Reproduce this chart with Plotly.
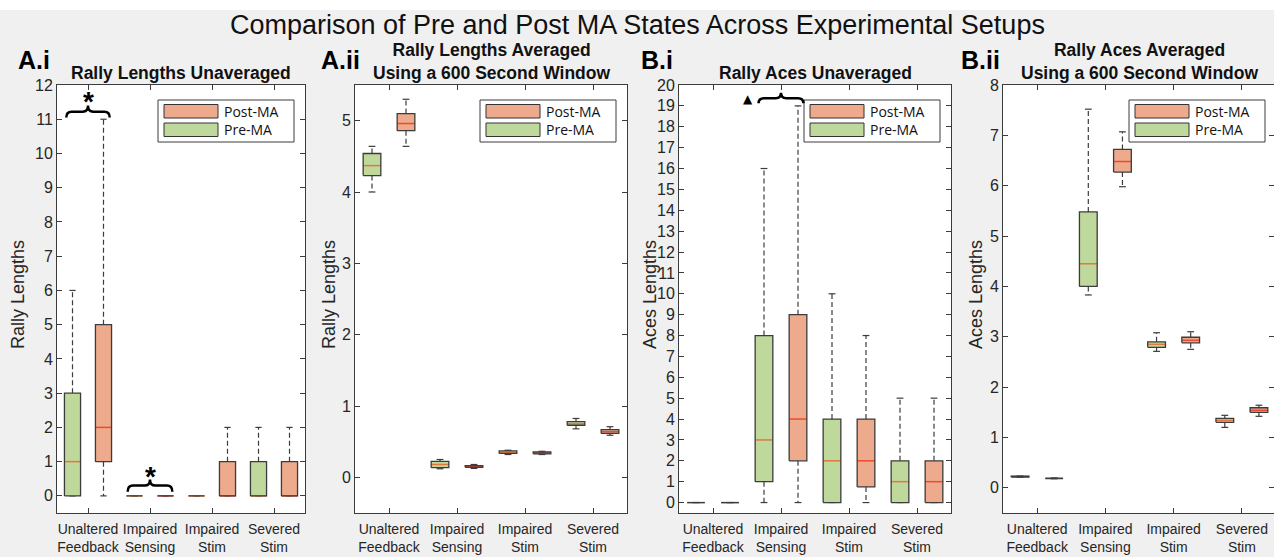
import plotly.graph_objects as go

W, H = 1274, 557

categories = ["Unaltered<br>Feedback", "Impaired<br>Sensing", "Impaired<br>Stim", "Severed<br>Stim"]
cat_pos = [0, 1, 2, 3]

# Five-number summaries per setup: (lower whisker, q1, median, q3, upper whisker)
rally_unavg_pre = [(0, 0, 1, 3, 6), (0, 0, 0, 0, 0), (0, 0, 0, 0, 0), (0, 0, 0, 1, 2)]
rally_unavg_post = [(0, 1, 2, 5, 11), (0, 0, 0, 0, 0), (0, 0, 0, 1, 2), (0, 0, 0, 1, 2)]

rally_avg_pre = [(4.00, 4.23, 4.37, 4.54, 4.64), (0.12, 0.135, 0.18, 0.225, 0.25),
                 (0.32, 0.335, 0.35, 0.37, 0.38), (0.68, 0.73, 0.75, 0.78, 0.825)]
rally_avg_post = [(4.64, 4.86, 4.96, 5.10, 5.30), (0.125, 0.14, 0.15, 0.165, 0.18),
                  (0.32, 0.33, 0.34, 0.355, 0.365), (0.59, 0.615, 0.64, 0.67, 0.71)]

aces_unavg_pre = [(0, 0, 0, 0, 0), (0, 1, 3, 8, 16), (0, 0, 2, 4, 10), (0, 0, 1, 2, 5)]
aces_unavg_post = [(0, 0, 0, 0, 0), (0, 2, 4, 9, 19), (0, 0.75, 2, 4, 8), (0, 0, 1, 2, 5)]

aces_avg_pre = [(0.21, 0.215, 0.225, 0.23, 0.235), (3.83, 4.00, 4.45, 5.48, 7.52),
                (2.71, 2.79, 2.85, 2.90, 3.08), (1.20, 1.30, 1.34, 1.38, 1.44)]
aces_avg_post = [(0.18, 0.185, 0.19, 0.195, 0.20), (5.98, 6.27, 6.48, 6.72, 7.07),
                 (2.75, 2.88, 2.93, 2.99, 3.10), (1.42, 1.50, 1.54, 1.59, 1.64)]

groups = ["Post-MA", "Pre-MA"]
fill_colors = {"Pre-MA": "#bfd89b", "Post-MA": "#eeaa8c"}
median_colors = {"Pre-MA": "#e5773c", "Post-MA": "#f04a2e"}
offsets = {"Pre-MA": -0.25, "Post-MA": 0.25}
BOX_W = 0.26
CAP_W = 0.10
EDGE = "#3c3c3c"
FONT = "Liberation Sans"
TXT = "#262626"

panels = [
    dict(label="A.i", title="Rally Lengths Unaveraged", ytitle="Rally Lengths",
         pre=rally_unavg_pre, post=rally_unavg_post, yrange=[-0.5, 12], ytick=list(range(0, 13)),
         px=(57, 305), ytitle_x=18, label_x=16),
    dict(label="A.ii", title="Rally Lengths Averaged<br>Using a 600 Second Window", ytitle="Rally Lengths",
         pre=rally_avg_pre, post=rally_avg_post, yrange=[-0.5, 5.5], ytick=list(range(0, 6)),
         px=(355, 627), ytitle_x=329, label_x=319),
    dict(label="B.i", title="Rally Aces Unaveraged", ytitle="Aces Lengths",
         pre=aces_unavg_pre, post=aces_unavg_post, yrange=[-0.5, 20], ytick=list(range(0, 21)),
         px=(679, 951), ytitle_x=650, label_x=639),
    dict(label="B.ii", title="Rally Aces Averaged<br>Using a 600 Second Window", ytitle="Aces Lengths",
         pre=aces_avg_pre, post=aces_avg_post, yrange=[-0.5, 8], ytick=list(range(0, 9)),
         px=(1003, 1276), ytitle_x=976, label_x=959),
]

PLOT_TOP, PLOT_BOT = 85, 513


def pxx(x):
    return x / W


def pxy(y):
    return 1 - y / H


fig = go.Figure()
layout_axes = {}
shapes = []
annotations = []


def add_group(xa, ya, stats, group):
    off = offsets[group]
    half = BOX_W / 2
    wx, wy, cx, cy, bx, by, mx, my = [], [], [], [], [], [], [], []
    for p, (lo, q1, med, q3, hi) in zip(cat_pos, stats):
        c = p + off
        wx += [c, c, None, c, c, None]
        wy += [q3, hi, None, q1, lo, None]
        cx += [c - CAP_W / 2, c + CAP_W / 2, None, c - CAP_W / 2, c + CAP_W / 2, None]
        cy += [hi, hi, None, lo, lo, None]
        bx += [c - half, c + half, c + half, c - half, c - half, None]
        by += [q1, q1, q3, q3, q1, None]
        mx += [c - half, c + half, None]
        my += [med, med, None]
    common = dict(xaxis=xa, yaxis=ya, mode="lines", showlegend=False, hoverinfo="skip")
    fig.add_trace(go.Scatter(x=wx, y=wy, line=dict(color=EDGE, width=1.2, dash="5px,3px"), **common))
    fig.add_trace(go.Scatter(x=cx, y=cy, line=dict(color=EDGE, width=1.2), **common))
    fig.add_trace(go.Scatter(x=bx, y=by, fill="toself", fillcolor=fill_colors[group],
                             line=dict(width=0, color=fill_colors[group]), **common))
    fig.add_trace(go.Scatter(x=mx, y=my, line=dict(color=median_colors[group], width=1.5), **common))
    fig.add_trace(go.Scatter(x=bx, y=by, line=dict(color=EDGE, width=1.3), **common))


for i, pnl in enumerate(panels):
    sfx = "" if i == 0 else str(i + 1)
    xa, ya = "x" + sfx, "y" + sfx
    x0, x1 = pnl["px"]
    # the last panel runs slightly past the right edge of the canvas
    d0, d1 = pxx(x0), pxx(x1)
    xr = [-0.5, 3.5]
    if d1 > 1.0:
        xr = [-0.5, -0.5 + 4.0 * (W - x0) / (x1 - x0)]
        d1 = 1.0
    layout_axes["xaxis" + sfx] = dict(
        domain=[d0, d1], anchor=ya, range=xr, automargin=False, tickangle=0,
        tickvals=cat_pos, ticktext=categories, ticks="inside", ticklen=5,
        tickcolor=EDGE, showline=True, linecolor=EDGE, linewidth=1, mirror="ticks",
        showgrid=False, zeroline=False, tickfont=dict(family=FONT, size=14, color=TXT),
        ticklabelstandoff=3, fixedrange=True)
    layout_axes["yaxis" + sfx] = dict(
        domain=[pxy(PLOT_BOT), pxy(PLOT_TOP)], anchor=xa, range=pnl["yrange"], automargin=False,
        tickvals=pnl["ytick"], ticks="inside", ticklen=5, tickcolor=EDGE,
        showline=True, linecolor=EDGE, linewidth=1, mirror="ticks",
        showgrid=False, zeroline=False, tickfont=dict(family=FONT, size=16, color=TXT),
        fixedrange=True)

    add_group(xa, ya, pnl["pre"], "Pre-MA")
    add_group(xa, ya, pnl["post"], "Post-MA")

    # panel title, panel label, y-axis title
    xc = (x0 + x1) / 2
    annotations.append(dict(x=pxx(xc), y=pxy(PLOT_TOP), xref="paper", yref="paper",
                            text="<b>" + pnl["title"].replace("<br>", "</b><br><b>") + "</b>",
                            showarrow=False, xanchor="center", yanchor="bottom",
                            font=dict(family=FONT, size=17.5, color="#111")))
    annotations.append(dict(x=pxx(pnl["label_x"]), y=pxy(60), xref="paper", yref="paper",
                            text="<b>" + pnl["label"] + "</b>", showarrow=False,
                            xanchor="left", yanchor="middle",
                            font=dict(family=FONT, size=25, color="#000")))
    annotations.append(dict(x=pxx(pnl["ytitle_x"]), y=pxy((PLOT_TOP + PLOT_BOT) / 2 - 4),
                            xref="paper", yref="paper", text=pnl["ytitle"], textangle=-90,
                            showarrow=False, xanchor="center", yanchor="middle",
                            font=dict(family=FONT, size=18, color=TXT)))

    # legend box in the upper-right corner of each panel
    lx0, lx1 = x1 - 147, x1 - 11
    shapes.append(dict(type="rect", xref="paper", yref="paper",
                       x0=pxx(lx0), x1=pxx(lx1), y0=pxy(142), y1=pxy(100),
                       fillcolor="white", line=dict(color=EDGE, width=1)))
    for g, (ty0, ty1) in zip(groups, [(104.5, 118), (123, 136.5)]):
        shapes.append(dict(type="rect", xref="paper", yref="paper",
                           x0=pxx(lx0 + 6), x1=pxx(lx0 + 60), y0=pxy(ty1), y1=pxy(ty0),
                           fillcolor=fill_colors[g], line=dict(color="#333", width=1)))
        annotations.append(dict(x=pxx(lx0 + 64), y=pxy((ty0 + ty1) / 2), xref="paper", yref="paper",
                                text=g, showarrow=False, xanchor="left", yanchor="middle",
                                font=dict(family="Open Sans", size=14, color="#111")))


def brace(xa, ya, x0, x1, y_end, y_band, y_tip):
    xm = (x0 + x1) / 2
    d = (x1 - x0) * 0.12
    path = (f"M{x0},{y_end} Q{x0},{y_band} {x0 + d},{y_band} L{xm - d},{y_band} "
            f"Q{xm},{y_band} {xm},{y_tip} Q{xm},{y_band} {xm + d},{y_band} "
            f"L{x1 - d},{y_band} Q{x1},{y_band} {x1},{y_end}")
    shapes.append(dict(type="path", xref=xa, yref=ya, path=path,
                       line=dict(color="#000", width=2.5)))


# significance markers
brace("x", "y", -0.35, 0.35, 11.05, 11.22, 11.4)
annotations.append(dict(x=0, y=11.68, xref="x", yref="y", text="<b>*</b>", showarrow=False,
                        yshift=-6, font=dict(family=FONT, size=28, color="#000")))
brace("x", "y", 0.64, 1.36, 0.12, 0.3, 0.48)
annotations.append(dict(x=1, y=0.74, xref="x", yref="y", text="<b>*</b>", showarrow=False,
                        yshift=-6, font=dict(family=FONT, size=28, color="#000")))
brace("x3", "y3", 0.67, 1.33, 19.12, 19.37, 19.63)
annotations.append(dict(x=0.52, y=19.33, xref="x3", yref="y3", text="▲", showarrow=False,
                        font=dict(family="DejaVu Sans", size=12, color="#000")))

# figure heading
annotations.append(dict(x=0.5, y=pxy(25), xref="paper", yref="paper",
                        text="Comparison of Pre and Post MA States Across Experimental Setups",
                        showarrow=False, xanchor="center", yanchor="middle",
                        font=dict(family=FONT, size=27, color="#111")))

# white strip along the top edge
shapes.insert(0, dict(type="rect", xref="paper", yref="paper", x0=0, x1=1,
                      y0=pxy(10), y1=1, fillcolor="white", line=dict(width=0), layer="below"))

fig.update_layout(
    width=W, height=H, margin=dict(l=0, r=0, t=0, b=0),
    paper_bgcolor="#f0f0f0", plot_bgcolor="white",
    showlegend=False, shapes=shapes, annotations=annotations,
    **layout_axes,
)

fig.write_html("out.html", config={"displayModeBar": False})
